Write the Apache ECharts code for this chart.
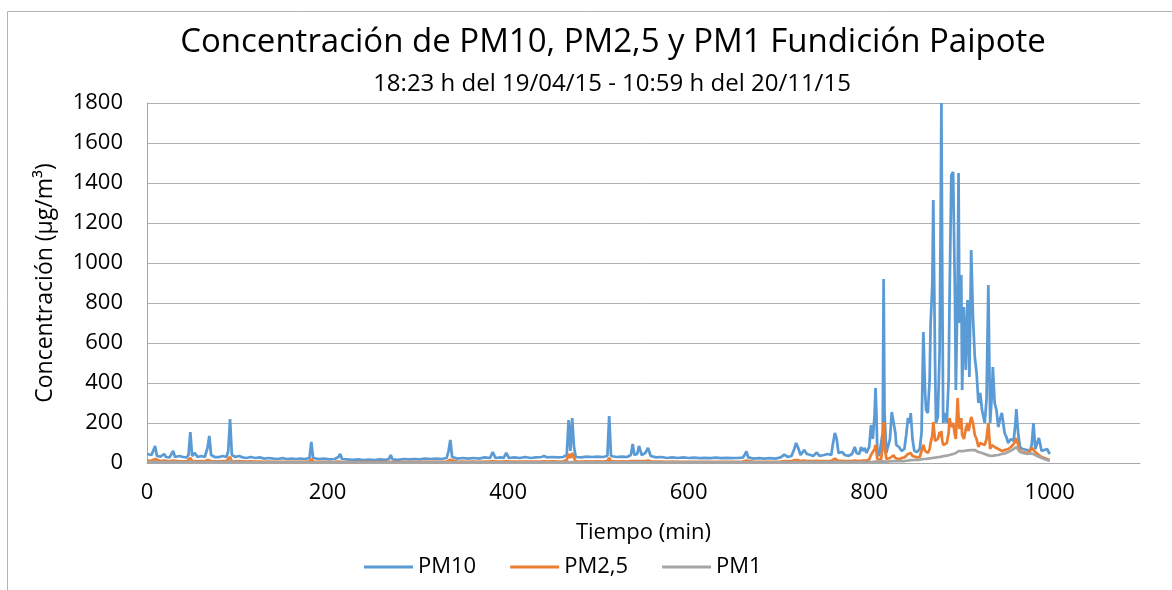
<html lang="es">
<head>
  <meta charset="UTF-8">
  <title>Concentración de PM10, PM2,5 y PM1 Fundición Paipote</title>
  <script src="https://cdn.jsdelivr.net/npm/echarts@6/dist/echarts.min.js"></script>
  <style>
    body { margin: 0; padding: 0; background: #fff; }
    #chart { width: 1172px; height: 590px; }
  </style>
</head>
<body>
  <div id="chart"></div>
  <script>
    // tiempo en minutos y concentraciones (µg/m3)
    let minutes = [
      0, 2, 5, 7, 9, 11, 15, 19, 21, 25, 29, 31, 36, 40, 44, 46, 48, 50, 53, 56,
      60, 64, 67, 69, 71, 75, 80, 84, 88, 90, 92, 94, 98, 102, 106, 110, 115, 120, 125, 130,
      135, 140, 145, 150, 155, 160, 165, 170, 175, 180, 182, 184, 190, 196, 202, 208, 212, 214, 216, 222,
      228, 234, 240, 246, 252, 258, 264, 268, 270, 272, 278, 284, 290, 296, 302, 308, 314, 320, 326, 332,
      334, 336, 338, 344, 350, 356, 362, 368, 374, 380, 383, 386, 392, 395, 398, 401, 407, 413, 419, 425,
      431, 437, 440, 443, 449, 455, 461, 465, 467, 469, 471, 473, 475, 481, 487, 493, 499, 505, 510, 512,
      514, 520, 526, 532, 536, 538, 540, 543, 545, 548, 552, 555, 558, 564, 570, 576, 582, 588, 594, 600,
      606, 612, 618, 624, 630, 636, 642, 648, 654, 660, 662, 664, 666, 672, 678, 684, 690, 696, 702, 706,
      710, 714, 717, 719, 721, 724, 728, 731, 735, 738, 742, 745, 750, 754, 758, 760, 762, 764, 766, 770,
      773, 777, 781, 784, 786, 789, 791, 793, 795, 797, 800, 802, 804, 806, 807, 808, 809, 811, 813, 815,
      816, 817, 819, 821, 823, 825, 827, 829, 830, 833, 836, 839, 841, 843, 845, 846, 848, 850, 853, 856,
      858, 860, 862, 863, 865, 867, 868, 870, 871, 873, 874, 876, 878, 879, 880, 881, 882, 884, 886, 888,
      889, 891, 893, 895, 896, 898, 899, 900, 902, 903, 905, 907, 909, 910, 911, 913, 915, 917, 919, 921,
      923, 925, 928, 930, 932, 934, 936, 937, 939, 941, 943, 945, 947, 950, 952, 954, 957, 960, 962, 963,
      965, 967, 970, 972, 975, 978, 980, 982, 984, 986, 988, 991, 994, 997, 1000
    ];

    let pm10 = [
      45, 35, 40, 30, 85, 35, 32, 45, 30, 28, 60, 30, 35, 30, 28, 40, 155, 35, 50, 30,
      35, 30, 75, 135, 40, 30, 30, 35, 30, 60, 220, 40, 30, 35, 28, 25, 30, 25, 28, 22,
      25, 22, 20, 24, 20, 22, 20, 22, 20, 25, 105, 25, 20, 22, 18, 20, 30, 45, 20, 18,
      16, 18, 15, 17, 15, 18, 16, 20, 40, 18, 16, 20, 18, 20, 18, 22, 20, 22, 20, 25,
      60, 115, 30, 22, 25, 22, 25, 22, 28, 25, 55, 25, 28, 25, 50, 25, 28, 25, 30, 25,
      28, 30, 35, 28, 30, 28, 30, 40, 215, 60, 225, 80, 30, 28, 32, 30, 32, 30, 35, 235,
      35, 30, 32, 30, 40, 95, 40, 45, 85, 40, 50, 75, 35, 28, 30, 25, 28, 25, 28, 25,
      27, 24, 26, 24, 27, 24, 26, 24, 25, 27, 40, 58, 28, 22, 24, 22, 24, 22, 28, 42,
      30, 35, 70, 100, 80, 40, 65, 45, 40, 35, 52, 35, 40, 45, 40, 100, 150, 120, 50, 55,
      40, 35, 45, 80, 50, 45, 80, 60, 75, 50, 80, 190, 120, 240, 375, 250, 60, 35, 40, 150,
      920, 250, 50, 40, 120, 255, 260, 150, 90, 80, 60, 70, 140, 225, 200, 250, 120, 60, 55, 70,
      150, 655, 350, 265, 250, 420, 690, 900, 1315, 500, 200, 230, 550, 1100, 1800, 900, 200, 250, 200, 415,
      815, 1440, 1455, 835, 365, 900, 1450, 700, 940, 365, 780, 465, 815, 700, 430, 1065, 730, 530, 450, 300,
      350, 265, 200, 320, 890, 200, 350, 480, 300, 265, 180, 220, 250, 150, 130, 100, 120, 110, 200, 270,
      150, 80, 70, 60, 65, 60, 90, 200, 70, 60, 125, 60, 65, 70, 45
    ];

    let pm25 = [
      12, 10, 11, 9, 20, 10, 9, 12, 9, 8, 12, 9, 8, 8, 8, 10, 25, 9, 10, 8,
      9, 8, 15, 25, 10, 8, 8, 9, 9, 12, 30, 10, 8, 9, 8, 7, 8, 7, 7, 6,
      7, 6, 6, 6, 6, 6, 6, 6, 6, 8, 20, 7, 6, 6, 5, 6, 7, 9, 6, 5,
      5, 5, 5, 5, 5, 5, 5, 6, 8, 5, 5, 6, 5, 6, 5, 6, 6, 6, 6, 7,
      10, 16, 8, 6, 7, 6, 7, 6, 7, 7, 10, 7, 7, 7, 9, 7, 7, 7, 7, 7,
      7, 7, 8, 7, 8, 7, 8, 15, 45, 25, 50, 25, 8, 7, 8, 7, 8, 7, 10, 25,
      9, 7, 8, 7, 10, 20, 10, 10, 15, 9, 10, 12, 8, 7, 7, 6, 7, 6, 6, 6,
      6, 6, 6, 6, 6, 6, 6, 6, 6, 7, 9, 12, 7, 6, 6, 6, 6, 6, 7, 10,
      8, 9, 14, 20, 15, 10, 12, 10, 9, 9, 11, 9, 9, 10, 10, 15, 22, 20, 10, 11,
      10, 9, 10, 12, 10, 10, 13, 12, 14, 12, 18, 40, 30, 70, 90, 60, 20, 12, 14, 80,
      205, 90, 20, 15, 25, 35, 38, 25, 20, 18, 25, 28, 30, 45, 40, 50, 35, 28, 28, 30,
      40, 90, 60, 55, 50, 70, 100, 140, 205, 110, 100, 120, 155, 130, 160, 110, 90, 95, 100, 150,
      225, 180, 200, 140, 120, 325, 230, 170, 225, 140, 120, 170, 200, 160, 180, 230, 200, 140, 120, 80,
      100, 100, 90, 120, 200, 70, 90, 100, 80, 75, 70, 65, 60, 65, 60, 70, 80, 95, 110, 125,
      90, 60, 55, 50, 50, 60, 75, 80, 55, 45, 40, 30, 25, 20, 15
    ];

    let pm1 = [
      5, 4, 5, 4, 6, 4, 4, 5, 4, 4, 5, 4, 4, 4, 4, 4, 6, 4, 5, 4,
      4, 4, 5, 6, 4, 4, 4, 4, 4, 5, 8, 4, 4, 4, 4, 3, 4, 3, 3, 3,
      3, 3, 3, 3, 3, 3, 3, 3, 3, 3, 5, 3, 3, 3, 3, 3, 3, 3, 3, 3,
      3, 3, 2, 2, 2, 2, 2, 3, 3, 2, 2, 3, 2, 3, 2, 3, 3, 3, 3, 3,
      4, 5, 3, 3, 3, 3, 3, 3, 3, 3, 4, 3, 3, 3, 4, 3, 3, 3, 3, 3,
      3, 3, 3, 3, 3, 3, 3, 4, 8, 5, 9, 5, 3, 3, 3, 3, 3, 3, 4, 6,
      3, 3, 3, 3, 4, 5, 4, 4, 5, 4, 4, 4, 3, 3, 3, 3, 3, 3, 3, 3,
      3, 3, 3, 3, 3, 3, 3, 3, 3, 3, 3, 4, 3, 3, 3, 3, 3, 3, 3, 4,
      3, 4, 5, 5, 5, 4, 4, 4, 4, 4, 4, 4, 4, 4, 4, 5, 6, 5, 4, 4,
      4, 4, 4, 4, 4, 4, 4, 4, 5, 5, 5, 6, 6, 6, 7, 6, 6, 6, 6, 8,
      10, 8, 7, 7, 8, 9, 9, 9, 9, 9, 10, 10, 11, 12, 13, 14, 15, 15, 16, 17,
      18, 20, 20, 21, 22, 23, 24, 25, 26, 27, 28, 29, 30, 31, 32, 33, 34, 35, 37, 39,
      40, 42, 45, 48, 50, 55, 60, 62, 60, 58, 60, 62, 63, 62, 60, 65, 62, 65, 60, 55,
      55, 50, 45, 40, 38, 35, 35, 36, 38, 40, 40, 42, 45, 48, 50, 55, 62, 70, 78, 80,
      70, 55, 50, 45, 45, 48, 50, 45, 40, 35, 30, 25, 20, 15, 10
    ];

    let yTicks = { min: 0, max: 1800, step: 200 };
    let xTicks = { min: 0, max: 1100, step: 200 };

    function pairs(vals) {
      return minutes.map(function (t, i) { return [t, vals[i]]; });
    }

    let myChart = echarts.init(document.getElementById('chart'));
    let font = "'Open Sans', 'Liberation Sans', sans-serif";

    let option = {
      animation: false,
      backgroundColor: '#fff',
      textStyle: { fontFamily: font },
      graphic: [{
        type: 'rect',
        shape: { x: 7.5, y: 11.5, width: 1200, height: 620 },
        style: { fill: 'none', stroke: '#b4b4b4', lineWidth: 1 },
        silent: true
      }],
      title: [
        {
          text: 'Concentración de PM10, PM2,5 y PM1 Fundición Paipote',
          left: 608, top: 21, textAlign: 'center',
          textStyle: { fontFamily: font, fontSize: 33, fontWeight: 'normal', color: '#000' }
        },
        {
          text: '18:23 h del 19/04/15 - 10:59 h del 20/11/15',
          left: 607, top: 67, textAlign: 'center',
          textStyle: { fontFamily: font, fontSize: 24, fontWeight: 'normal', color: '#000' }
        }
      ],
      legend: {
        left: 359, top: 551,
        icon: 'rect',
        itemWidth: 49, itemHeight: 3, itemGap: 34,
        textStyle: { fontFamily: font, fontSize: 22, color: '#000' },
        data: ['PM10', 'PM2,5', 'PM1']
      },
      grid: { left: 147, top: 103, right: 32, bottom: 127 },
      xAxis: {
        type: 'value',
        min: xTicks.min, max: xTicks.max, interval: xTicks.step,
        name: 'Tiempo (min)', nameLocation: 'middle', nameGap: 59,
        nameTextStyle: { fontFamily: font, fontSize: 22, color: '#000' },
        axisLine: { show: true, lineStyle: { color: '#a6a6a6', width: 1 } },
        axisTick: { show: false },
        splitLine: { show: false },
        axisLabel: {
          fontFamily: font, fontSize: 22, color: '#000', margin: 19, showMaxLabel: false,
          formatter: function (v) { return String(v); }
        }
      },
      yAxis: {
        type: 'value',
        min: yTicks.min, max: yTicks.max, interval: yTicks.step,
        name: 'Concentración (µg/m³)', nameLocation: 'middle', nameGap: 90, nameRotate: 90,
        nameTextStyle: { fontFamily: font, fontSize: 23, color: '#000' },
        axisLine: { show: true, lineStyle: { color: '#a6a6a6', width: 1 } },
        axisTick: { show: false },
        splitLine: { lineStyle: { color: '#b0b0b0', width: 1 } },
        axisLabel: {
          fontFamily: font, fontSize: 22, color: '#000', margin: 24,
          formatter: function (v) { return String(v); }
        }
      },
      series: [
        {
          name: 'PM10', type: 'line', symbol: 'none',
          lineStyle: { color: '#5b9bd5', width: 2.75 },
          itemStyle: { color: '#5b9bd5' },
          data: pairs(pm10)
        },
        {
          name: 'PM2,5', type: 'line', symbol: 'none',
          lineStyle: { color: '#ed7d31', width: 2.75 },
          itemStyle: { color: '#ed7d31' },
          data: pairs(pm25)
        },
        {
          name: 'PM1', type: 'line', symbol: 'none',
          lineStyle: { color: '#a5a5a5', width: 2.75 },
          itemStyle: { color: '#a5a5a5' },
          data: pairs(pm1)
        }
      ]
    };

    myChart.setOption(option);
  </script>
</body>
</html>
